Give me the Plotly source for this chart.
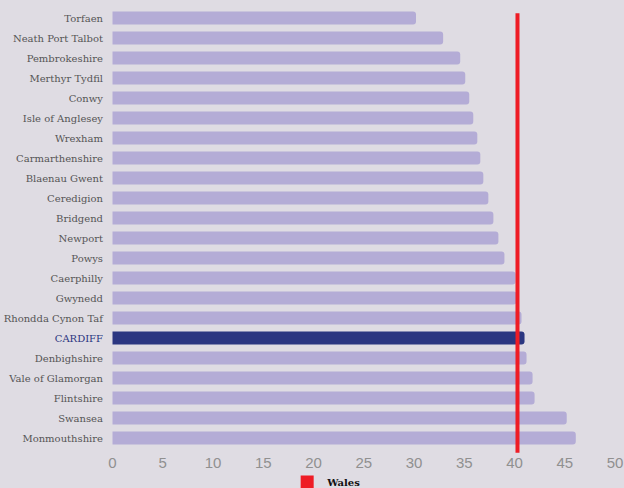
import plotly.graph_objects as go

# Local authority values, top to bottom
areas = [
    "Torfaen", "Neath Port Talbot", "Pembrokeshire", "Merthyr Tydfil", "Conwy",
    "Isle of Anglesey", "Wrexham", "Carmarthenshire", "Blaenau Gwent", "Ceredigion",
    "Bridgend", "Newport", "Powys", "Caerphilly", "Gwynedd", "Rhondda Cynon Taf",
    "CARDIFF", "Denbighshire", "Vale of Glamorgan", "Flintshire", "Swansea",
    "Monmouthshire",
]
values = [
    30.2, 32.9, 34.6, 35.1, 35.5,
    35.9, 36.3, 36.6, 36.9, 37.4,
    37.9, 38.4, 39.0, 40.1, 40.2, 40.7,
    41.0, 41.2, 41.8, 42.0, 45.2,
    46.1,
]
wales_value = 40.3
highlight = "CARDIFF"
x_ticks = [0, 5, 10, 15, 20, 25, 30, 35, 40, 45, 50]

BG = "#dfdce3"
BAR = "#b4acd6"
HIGHLIGHT = "#2b3681"
RED = "#ee1c25"

bar_colors = [HIGHLIGHT if a == highlight else BAR for a in areas]
tick_text = [
    f"<span style='color:{HIGHLIGHT}'>{a}</span>" if a == highlight else a
    for a in areas
]

fig = go.Figure()
fig.add_trace(go.Bar(
    x=values, y=areas, orientation="h",
    marker=dict(color=bar_colors, line=dict(width=0), cornerradius=3),
    showlegend=False, hoverinfo="x+y",
))
# Legend entry for the Wales reference line
fig.add_trace(go.Scatter(
    x=[None], y=[None], mode="markers", name="<b>Wales</b>",
    marker=dict(symbol="square", size=13, color=RED),
))
fig.add_shape(
    type="line", xref="x", yref="paper",
    x0=wales_value, x1=wales_value, y0=-0.011, y1=0.988,
    line=dict(color=RED, width=4),
)

fig.update_layout(
    width=624, height=488,
    paper_bgcolor=BG, plot_bgcolor=BG,
    margin=dict(l=110, r=3, t=8, b=40, autoexpand=False),
    bargap=0.36,
    font=dict(family="DejaVu Serif", size=10, color="#555555"),
    xaxis=dict(
        range=[-0.25, 50.6], tickvals=x_ticks, showgrid=False, zeroline=False,
        showline=False, ticks="", automargin=False, ticklabelstandoff=4,
        tickfont=dict(family="Liberation Sans", size=15, color="#909090"),
    ),
    yaxis=dict(
        tickvals=areas, ticktext=tick_text, autorange="reversed",
        showgrid=False, zeroline=False, showline=False, ticks="",
        ticklabelstandoff=6, automargin=False,
        tickfont=dict(family="DejaVu Serif", size=10, color="#555555"),
    ),
    legend=dict(
        orientation="h", x=0.425, xanchor="center", y=-0.077, yanchor="middle",
        bgcolor="rgba(0,0,0,0)",
        font=dict(family="DejaVu Serif", size=10, color="#111111"),
        itemwidth=30,
    ),
)

fig.write_html("out.html")
